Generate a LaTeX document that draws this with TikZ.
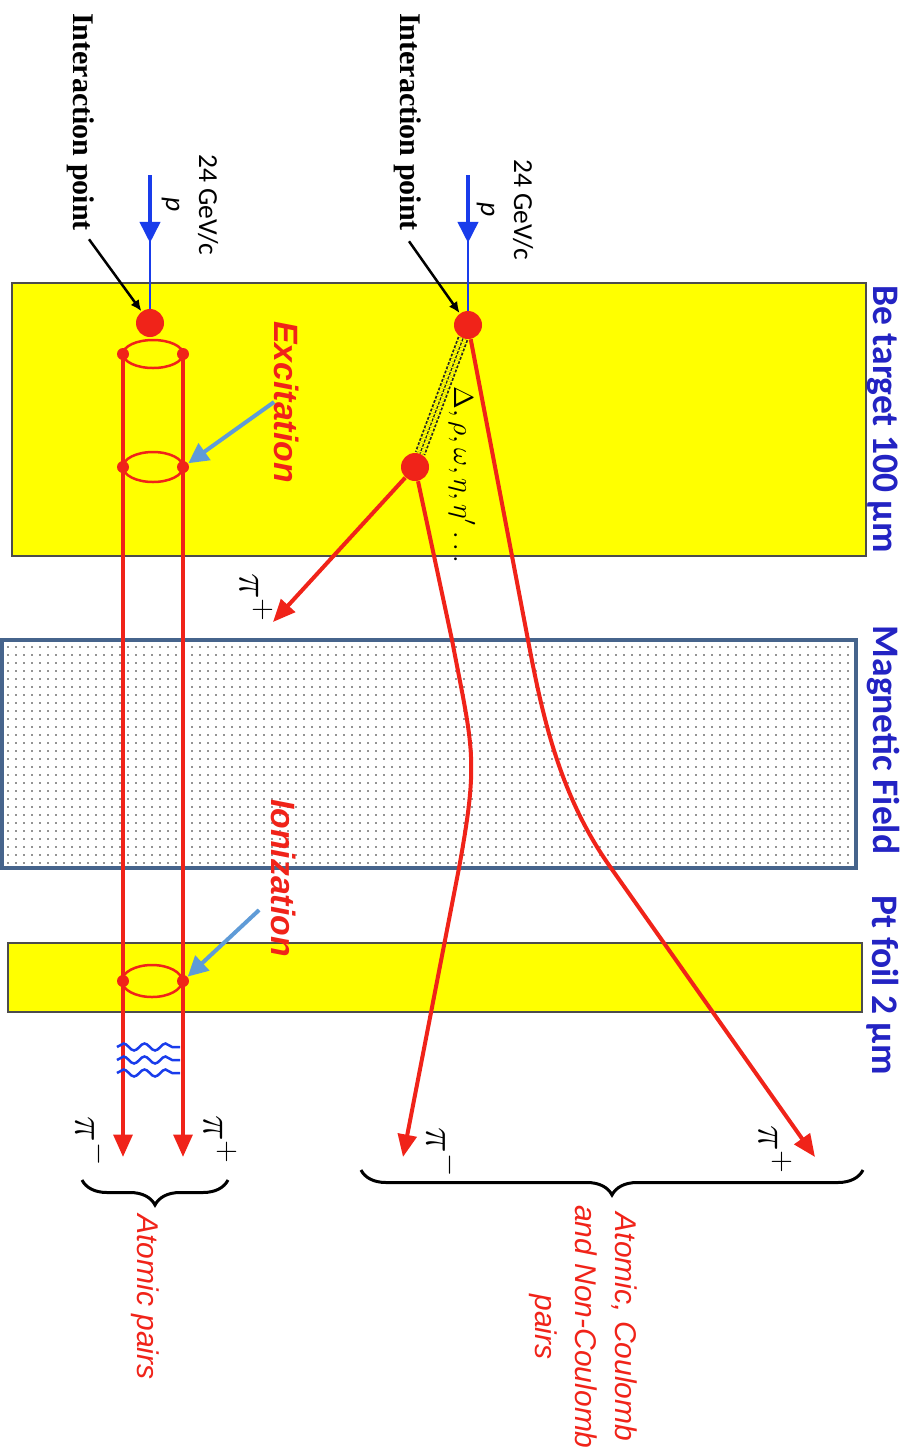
\documentclass[tikz,border=0pt]{standalone}
\usepackage{fontspec}
\setmainfont{Liberation Serif}
\newfontfamily\calibri{Carlito}
\newfontfamily\arial{Liberation Sans}
\usetikzlibrary{arrows.meta, patterns.meta, decorations.pathmorphing, decorations.pathreplacing}

\definecolor{trackred}{RGB}{240,35,25}
\definecolor{slabyellow}{RGB}{255,255,0}
\definecolor{beamblue}{RGB}{25,60,235}
\definecolor{layerblue}{RGB}{35,35,195}
\definecolor{hintblue}{RGB}{95,155,215}
\definecolor{fieldframe}{RGB}{70,100,140}

\begin{document}
\begin{tikzpicture}[
    x=0.4pt, y=-0.4pt,
    slab/.style={draw=black!70, line width=0.6pt, fill=slabyellow},
    field/.style={draw=fieldframe, line width=1.3pt, pattern={Dots[distance=3.2pt, radius=0.35pt]}, pattern color=black!85},
    vtext/.style={rotate=-90, inner sep=0pt, anchor=center},
    layer/.style={vtext, text=layerblue, font=\calibri\bfseries\fontsize{15}{18}\selectfont},
    process/.style={vtext, text=trackred, font=\arial\bfseries\itshape\fontsize{13.5}{16}\selectfont},
    pairs/.style={vtext, text=trackred, align=center, font=\arial\itshape\fontsize{12}{16}\selectfont},
    beamtext/.style={vtext, align=center, font=\calibri\fontsize{11}{13.2}\selectfont},
    iptext/.style={vtext, font=\bfseries\fontsize{12}{14}\selectfont},
    pion/.style={vtext, font=\fontsize{18}{20}\selectfont},
    vertex/.style={circle, fill=trackred, inner sep=0pt, minimum size=11.2pt},
    hit/.style={circle, fill=trackred, inner sep=0pt, minimum size=4.8pt},
    track/.style={draw=trackred, line width=1.6pt, -{Triangle[length=9pt,width=7.5pt]}},
    orbit/.style={draw=trackred, line width=1pt},
    beam/.style={draw=beamblue, line width=1.8pt, -{Triangle[length=8.5pt,width=8pt]}},
    beamline/.style={draw=beamblue, line width=0.5pt},
    pointer/.style={draw=black, line width=1pt, -{Latex[length=4.5pt,width=4pt]}},
    hint/.style={draw=hintblue, line width=1.6pt, -{Triangle[length=8pt,width=8pt]}},
    wave/.style={draw=beamblue, line width=1pt, decorate, decoration={snake, amplitude=1.4pt, segment length=8.4pt}},
    pairbrace/.style={draw=black, line width=1.2pt, decorate, decoration={brace, amplitude=10pt}}
]
\useasboundingbox (0,0) rectangle (905,1455);

% Layers
\draw[slab] (12,283) rectangle (866,556);
\draw[field] (2,640) rectangle (856,868);
\draw[slab] (8,943) rectangle (862,1012);
\node[layer] (targetlabel) at (883,419) {Be target 100 μm};
\node[layer] (fieldlabel) at (883,740) {Magnetic Field};
\node[layer] (foillabel) at (883,985) {Pt foil 2 μm};

% Vertices and hits
\node[vertex] (ipA) at (150,323) {};
\node[vertex] (ipB) at (468,325) {};
\node[vertex] (decay) at (415,467) {};
\draw[orbit] (153,354) ellipse [x radius=12pt, y radius=5.6pt];
\draw[orbit] (153,467) ellipse [x radius=12pt, y radius=6pt];
\draw[orbit] (152,981) ellipse [x radius=12pt, y radius=6.4pt];
\node[hit] (hA1) at (123,354) {};
\node[hit] (hA2) at (183,354) {};
\node[hit] (hA3) at (123,467) {};
\node[hit] (hA4) at (183,467) {};
\node[hit] (hA5) at (123,981) {};
\node[hit] (hA6) at (183,981) {};

% Beam and interaction points
\coordinate (beamA) at (150,175);
\coordinate (beamtipA) at (150,243);
\coordinate (beamB) at (468,175);
\coordinate (beamtipB) at (468,243);
\draw[beamline] (beamA) -- (ipA);
\draw[beam] (beamA) -- (beamtipA);
\draw[beamline] (beamB) -- (ipB);
\draw[beam] (beamB) -- (beamtipB);
\node[beamtext] (beamtextA) at (190,205) {24 GeV/c\\\textit{p}};
\node[beamtext] (beamtextB) at (505,210) {24 GeV/c\\\textit{p}};
\node[iptext] (iplabelA) at (81,122) {Interaction point};
\node[iptext] (iplabelB) at (408,122) {Interaction point};
\draw[pointer] (iplabelA.east) ++(8,8) -- (ipA);
\draw[pointer] (iplabelB.east) ++(1,10) -- (ipB);

% Short-lived resonance
\draw[black!85, line width=0.7pt, dash pattern=on 1.1pt off 0.7pt, double=slabyellow, double distance=3pt] (ipB) -- (decay);
\draw[black!85, line width=0.5pt, dash pattern=on 1.1pt off 0.7pt] (ipB) -- (decay);
\node[vtext, font=\fontsize{11}{13}\selectfont] (reslabel) at (462,475) {$\Delta,\rho,\omega,\eta,\eta'\dots$};

% Pion tracks
\coordinate (endAm) at (123,1157);
\coordinate (endAp) at (183,1157);
\coordinate (endBm) at (403,1157);
\coordinate (endBp) at (815,1157);
\coordinate (endC) at (273,622);
\draw[track] (hA1.center) -- (endAm);
\draw[track] (hA2.center) -- (endAp);
\draw[track] (ipB) -- (528,640) .. controls (543,720) and (561,798) .. (611,868) -- (endBp);
\draw[track] (decay) -- (452,640) .. controls (473,750) and (479,758) .. (459,868) -- (endBm);
\draw[track] (decay) -- (endC);
\foreach \y in {1047,1060,1073}
  \draw[wave] (117,\y) -- (180,\y);

% Processes
\node[process] (exclabel) at (287,402) {Excitation};
\node[process] (ionlabel) at (284,878) {Ionization};
\draw[hint] (exclabel.south) -- (hA4);
\draw[hint] (ionlabel.south) ++(-12,32) -- (hA6);

% Pion labels
\node[pion] (pipC) at (256,598) {$\pi^{+}$};
\node[pion] (pimA) at (92,1142) {$\pi^{-}$};
\node[pion] (pipA) at (220,1140) {$\pi^{+}$};
\node[pion] (pimB) at (443,1153) {$\pi^{-}$};
\node[pion] (pipB) at (775,1150) {$\pi^{+}$};

% Pairs
\draw[pairbrace] (228,1180) -- (82,1180);
\draw[pairbrace] (863,1170) -- (361,1170);
\node[pairs] (atomiclabel) at (145,1297) {Atomic pairs};
\node[pairs] (mixedlabel) at (583,1327) {Atomic, Coulomb\\and Non-Coulomb\\pairs};

\end{tikzpicture}
\end{document}
